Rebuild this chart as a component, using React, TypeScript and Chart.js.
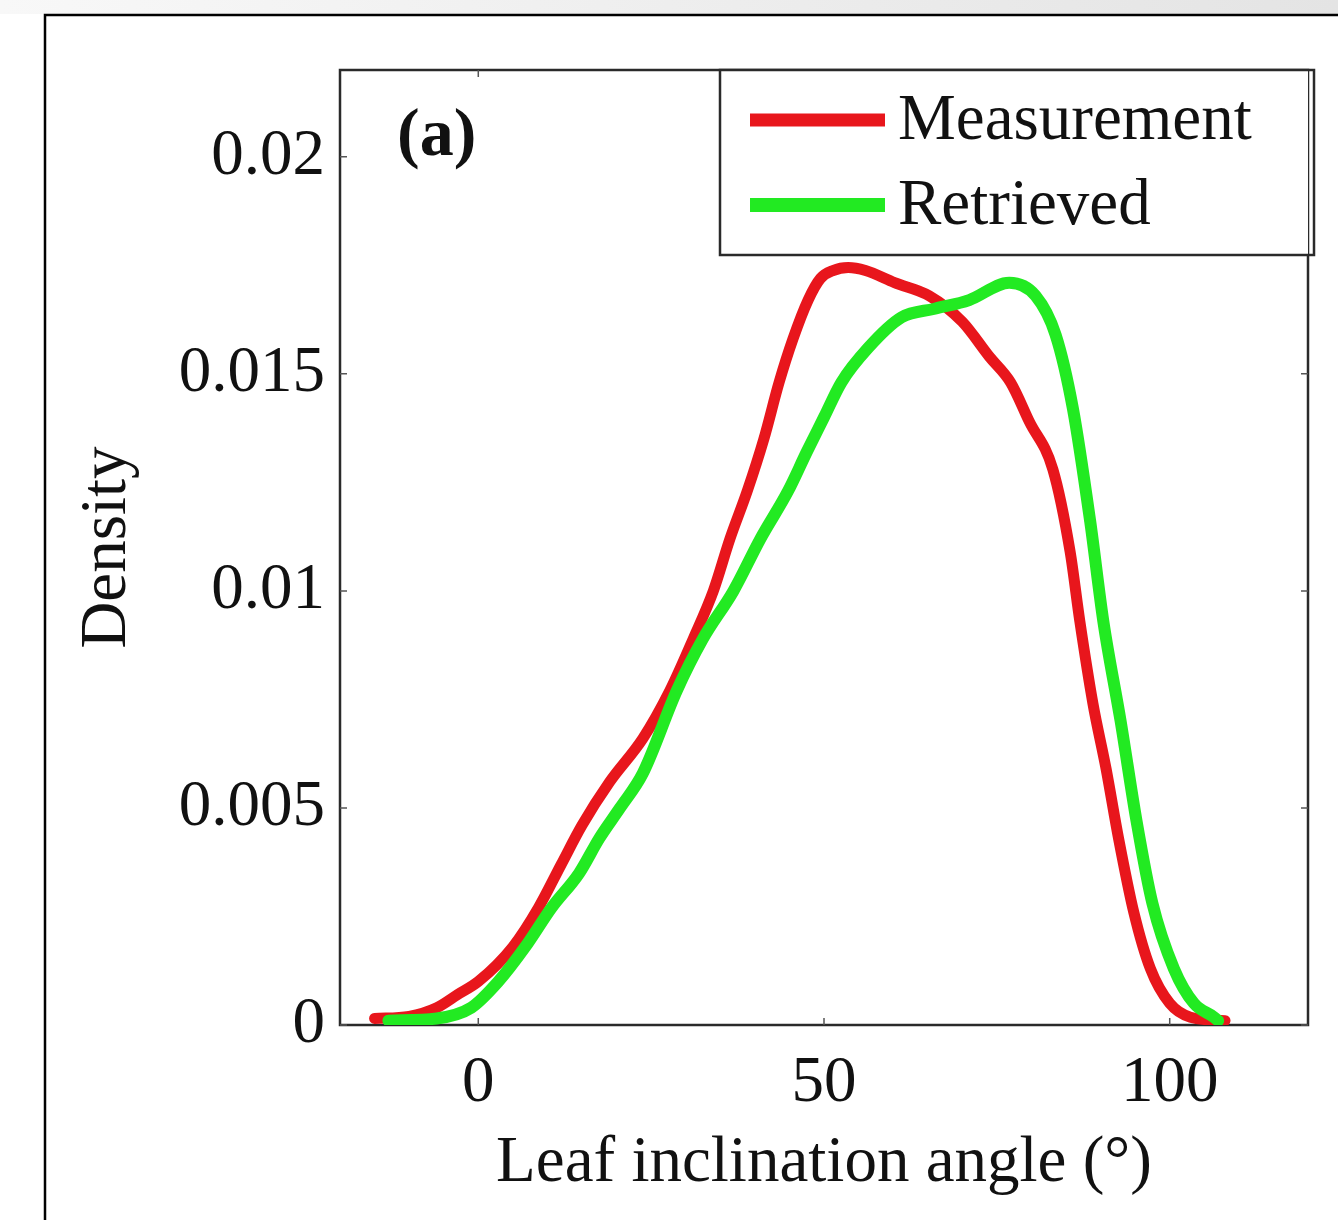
import React, { useEffect, useRef } from "react";
import { Chart, registerables } from "chart.js";

Chart.register(...registerables);

// ---- data ----
const measurementX = [-15, -10, -6, -3, 0, 5, 8.7, 12, 15, 19, 23.8, 27.7, 31.1, 34, 36.4, 38.9, 41.3, 43.5, 45.5, 47.7, 49.5, 51.3, 53.5, 56, 60.2, 65.2, 70, 73.9, 77, 79.7, 83.1, 85.6, 87, 88.9, 90.8, 92.6, 94.8, 97.2, 100, 103, 108];
const measurementY = [0.00015, 0.0002, 0.0004, 0.0007, 0.001, 0.0018, 0.0027, 0.0037, 0.0046, 0.0056, 0.0066, 0.0077, 0.0089, 0.0100, 0.0112, 0.0123, 0.0135, 0.0148, 0.0158, 0.0167, 0.0172, 0.01738, 0.01745, 0.01738, 0.0171, 0.0168, 0.0162, 0.0154, 0.0148, 0.0139, 0.0128, 0.0109, 0.0093, 0.0074, 0.0059, 0.0043, 0.0026, 0.0013, 0.0005, 0.00018, 0.0001];

const retrievedX = [-13, -6, -1, 2.9, 6.8, 10.6, 14.6, 17.5, 20.5, 23.8, 28.7, 32.5, 36.9, 40.8, 44.8, 47.5, 50, 52.5, 56.4, 61.2, 66, 71, 76.8, 80.6, 83.5, 86, 88.5, 90.4, 92.9, 95.2, 97.5, 100.6, 103.5, 106.4, 107];
const retrievedY = [0.0001, 0.00015, 0.0004, 0.001, 0.0018, 0.0027, 0.0035, 0.0043, 0.0050, 0.0058, 0.0077, 0.0089, 0.0100, 0.0112, 0.0123, 0.0132, 0.0140, 0.0148, 0.0156, 0.0163, 0.0165, 0.0167, 0.0171, 0.0168, 0.0159, 0.0142, 0.0116, 0.0093, 0.0070, 0.0047, 0.0028, 0.0013, 0.0005, 0.00018, 0.0001];

const seriesLabels = ["Measurement", "Retrieved"];
const xTicks = [0, 50, 100];
const xTickLabels = ["0", "50", "100"];
const yTicks = [0, 0.005, 0.01, 0.015, 0.02];
const yTickLabels = ["0", "0.005", "0.01", "0.015", "0.02"];
const xTitle = "Leaf inclination angle (\u00b0)";
const yTitle = "Density";
const panelLabel = "(a)";

const FONT = "'Liberation Serif', 'Times New Roman', serif";
const TEXT = "#111111";
const AXIS = "#2a2a2a";

function labelFor(v: number, ticks: number[], labels: string[]) {
  const i = ticks.findIndex((t) => Math.abs(t - v) < 1e-9);
  return i >= 0 ? labels[i] : "";
}

const framePlugin = {
  id: "frame",
  beforeDraw(chart: any) {
    const { ctx, width, height } = chart;
    ctx.save();
    ctx.fillStyle = "#ffffff";
    ctx.fillRect(0, 0, width, height);
    const g = ctx.createLinearGradient(0, 0, width, 0);
    g.addColorStop(0, "#f8f8f8");
    g.addColorStop(1, "#e4e4e4");
    ctx.fillStyle = g;
    ctx.fillRect(0, 0, width, 14);
    ctx.strokeStyle = "#000000";
    ctx.lineWidth = 2.5;
    ctx.beginPath();
    ctx.moveTo(45, height + 5);
    ctx.lineTo(45, 15);
    ctx.lineTo(width + 5, 15);
    ctx.stroke();
    ctx.restore();
  },
};

const boxPlugin = {
  id: "axesBox",
  beforeDatasetsDraw(chart: any) {
    const { ctx, chartArea } = chart;
    const { left, right, top, bottom } = chartArea;
    const xs = chart.scales.x;
    const ys = chart.scales.y;
    ctx.save();
    ctx.strokeStyle = AXIS;
    ctx.lineWidth = 2.5;
    ctx.strokeRect(left, top, right - left, bottom - top);
    ctx.lineWidth = 1.5;
    ctx.strokeStyle = "#555";
    const tl = 7;
    ctx.beginPath();
    xTicks.forEach((t) => {
      const px = xs.getPixelForValue(t);
      ctx.moveTo(px, bottom);
      ctx.lineTo(px, bottom - tl);
      ctx.moveTo(px, top);
      ctx.lineTo(px, top + tl);
    });
    yTicks.forEach((t) => {
      const py = ys.getPixelForValue(t);
      ctx.moveTo(left, py);
      ctx.lineTo(left + tl, py);
      ctx.moveTo(right, py);
      ctx.lineTo(right - tl, py);
    });
    ctx.stroke();
    ctx.restore();
  },
};

const legendPlugin = {
  id: "boxLegend",
  afterDatasetsDraw(chart: any) {
    const { ctx, chartArea } = chart;
    const w = 588;
    const h = 185;
    const x0 = chartArea.right - w;
    const y0 = chartArea.top;
    ctx.save();
    ctx.fillStyle = "#ffffff";
    ctx.fillRect(x0, y0, w, h);
    ctx.strokeStyle = AXIS;
    ctx.lineWidth = 2.5;
    ctx.strokeRect(x0, y0, w + 6, h);
    ctx.font = `65px ${FONT}`;
    ctx.textBaseline = "middle";
    ctx.textAlign = "left";
    chart.data.datasets.forEach((ds: any, i: number) => {
      const y = y0 + 50 + i * 85;
      ctx.strokeStyle = ds.borderColor;
      ctx.lineWidth = ds.borderWidth + 2;
      ctx.lineCap = "butt";
      ctx.beginPath();
      ctx.moveTo(x0 + 30, y);
      ctx.lineTo(x0 + 165, y);
      ctx.stroke();
      ctx.fillStyle = TEXT;
      ctx.fillText(ds.label, x0 + 178, y + 2);
    });
    // panel label
    ctx.font = `bold 68px ${FONT}`;
    ctx.fillStyle = TEXT;
    ctx.fillText(panelLabel, chartArea.left + 57, chartArea.top + 67);
    ctx.restore();
  },
};

export default function App() {
  const ref = useRef<HTMLCanvasElement | null>(null);

  useEffect(() => {
    document.body.style.margin = "0";
    if (!ref.current) return;
    const font = { family: FONT, size: 65 };
    const chart = new Chart(ref.current, {
      type: "line",
      data: {
        datasets: [
          {
            label: seriesLabels[0],
            data: measurementX.map((x, i) => ({ x, y: measurementY[i] })),
            borderColor: "#e8161c",
            borderWidth: 11,
            pointRadius: 0,
            cubicInterpolationMode: "monotone",
            borderJoinStyle: "round",
            borderCapStyle: "round",
            fill: false,
            order: 2,
          },
          {
            label: seriesLabels[1],
            data: retrievedX.map((x, i) => ({ x, y: retrievedY[i] })),
            borderColor: "#22ea22",
            borderWidth: 12,
            pointRadius: 0,
            cubicInterpolationMode: "monotone",
            borderJoinStyle: "round",
            borderCapStyle: "round",
            fill: false,
            order: 1,
          },
        ],
      },
      options: {
        animation: false,
        responsive: true,
        maintainAspectRatio: false,
        layout: { padding: { left: 0, top: 70, right: 30, bottom: 0 } },
        plugins: { legend: { display: false }, tooltip: { enabled: false } },
        scales: {
          x: {
            type: "linear",
            min: -20,
            max: 120,
            afterBuildTicks: (s: any) => {
              s.ticks = xTicks.map((v) => ({ value: v }));
            },
            afterFit: (s: any) => {
              s.height = 195;
            },
            grid: { display: false, drawTicks: false },
            border: { display: false },
            ticks: {
              padding: 20,
              font,
              color: TEXT,
              maxRotation: 0,
              autoSkip: false,
              callback: (v: any) => labelFor(Number(v), xTicks, xTickLabels),
            },
            title: {
              display: true,
              text: xTitle,
              font,
              color: TEXT,
              padding: { top: 0, bottom: 17 },
            },
          },
          y: {
            type: "linear",
            min: 0,
            max: 0.022,
            afterBuildTicks: (s: any) => {
              s.ticks = yTicks.map((v) => ({ value: v }));
            },
            afterFit: (s: any) => {
              s.width = 340;
            },
            grid: { display: false, drawTicks: false },
            border: { display: false },
            ticks: {
              padding: 15,
              font,
              color: TEXT,
              autoSkip: false,
              callback: (v: any) => labelFor(Number(v), yTicks, yTickLabels),
            },
            title: {
              display: true,
              text: yTitle,
              font,
              color: TEXT,
              padding: { top: 69, bottom: 0 },
            },
          },
        },
      },
      plugins: [framePlugin, boxPlugin, legendPlugin],
    });
    return () => chart.destroy();
  }, []);

  return (
    <div style={{ position: "relative", width: 1338, height: 1220 }}>
      <canvas ref={ref} />
    </div>
  );
}
